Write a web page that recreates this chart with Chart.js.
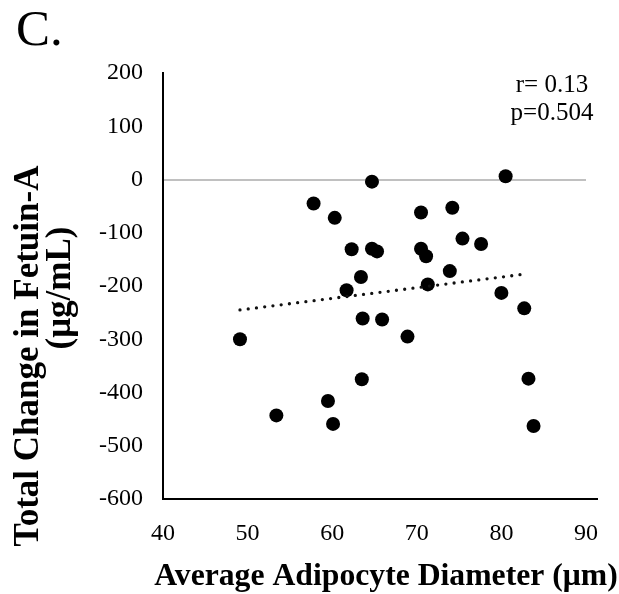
<!DOCTYPE html>
<html>
<head>
<meta charset="utf-8">
<script src="https://cdn.jsdelivr.net/npm/chart.js"></script>
<style>
  html, body { margin: 0; padding: 0; background: #fff; }
  #wrap { width: 619px; height: 594px; position: relative; }
</style>
</head>
<body>
<div id="wrap"><canvas id="c" width="619" height="594"></canvas></div>
<script>
// ---- data ----
const diameterX = [49.1, 53.4, 57.8, 59.5, 60.1, 60.3, 61.7, 62.3, 63.4, 63.6, 63.5, 64.7, 64.7, 65.3, 65.9,
                   68.9, 70.5, 70.5, 71.1, 71.3, 73.9, 74.2, 75.4, 77.6, 80.0, 80.5, 82.7, 83.2, 83.8];
const fetuinY   = [-300, -443, -45, -416, -459, -72, -208, -131, -183, -261, -375, -4, -130, -135, -263,
                   -295, -62, -130, -144, -197, -172, -53, -111, -121, -213, 6, -242, -374, -463];
const trendX = [49.1, 83.1];
const trendY = [-245, -177];
const xTicks = [40, 50, 60, 70, 80, 90];
const yTicks = [200, 100, 0, -100, -200, -300, -400, -500, -600];
const panelLabel = 'C.';
const statLines = ['r= 0.13', 'p=0.504'];
const xTitle = 'Average Adipocyte Diameter (μm)';
const yTitleLines = ['Total Change in Fetuin-A', '(μg/mL)'];

const SERIF = '"Liberation Serif", "Times New Roman", serif';

const points = diameterX.map((x, i) => ({ x: x, y: fetuinY[i] }));
const trend = trendX.map((x, i) => ({ x: x, y: trendY[i] }));

const textPlugin = {
  id: 'textPlugin',
  afterDraw(chart) {
    const ctx = chart.ctx;
    const a = chart.chartArea;
    ctx.save();
    // extend x axis line slightly past the last tick (as in reference)
    ctx.strokeStyle = '#000';
    ctx.lineWidth = 2;
    ctx.beginPath();
    ctx.moveTo(a.right - 1, a.bottom);
    ctx.lineTo(a.right + 12, a.bottom);
    ctx.stroke();

    ctx.fillStyle = '#000';
    // panel label
    ctx.font = '51px ' + SERIF;
    ctx.textAlign = 'left';
    ctx.textBaseline = 'alphabetic';
    ctx.fillText(panelLabel, 16, 45);
    // stats
    ctx.font = '25px ' + SERIF;
    ctx.textAlign = 'center';
    ctx.fillText(statLines[0], 552, 92);
    ctx.fillText(statLines[1], 552, 120);
    // x title
    ctx.font = 'bold 31.7px ' + SERIF;
    ctx.textAlign = 'center';
    ctx.fillText(xTitle, 386, 585);
    // y title (two lines, rotated)
    ctx.font = 'bold 35px ' + SERIF;
    ctx.save();
    ctx.translate(38, 356);
    ctx.rotate(-Math.PI / 2);
    ctx.fillText(yTitleLines[0], 0, 0);
    ctx.restore();
    ctx.save();
    ctx.translate(70, 288);
    ctx.rotate(-Math.PI / 2);
    ctx.fillText(yTitleLines[1], 0, 0);
    ctx.restore();
    ctx.restore();
  }
};

new Chart(document.getElementById('c'), {
  type: 'scatter',
  data: {
    datasets: [
      {
        label: 'trend',
        data: trend,
        showLine: true,
        borderColor: '#111',
        borderWidth: 3.3,
        borderDash: [0, 8.3],
        borderCapStyle: 'round',
        pointRadius: 0,
        pointHoverRadius: 0,
        fill: false,
        order: 0
      },
      {
        label: 'data',
        data: points,
        backgroundColor: '#000',
        borderColor: '#000',
        pointRadius: 7,
        pointHoverRadius: 7,
        borderWidth: 0,
        order: 1
      }
    ]
  },
  options: {
    responsive: false,
    animation: false,
    devicePixelRatio: 1,
    layout: { padding: { left: 0, right: 33, top: 73, bottom: 0 } },
    plugins: { legend: { display: false }, tooltip: { enabled: false } },
    scales: {
      x: {
        type: 'linear',
        min: 40, max: 90,
        afterBuildTicks(scale) { scale.ticks = xTicks.map(v => ({ value: v })); },
        afterFit(scale) { scale.height = 95; },
        grid: { display: false, drawTicks: false },
        border: { display: true, color: '#000', width: 2 },
        ticks: { color: '#000', padding: 20, font: { family: SERIF, size: 24 }, maxRotation: 0 },
        title: { display: false }
      },
      y: {
        type: 'linear',
        min: -600, max: 200,
        afterBuildTicks(scale) { scale.ticks = yTicks.map(v => ({ value: v })); },
        afterFit(scale) { scale.width = 163; },
        grid: {
          drawTicks: false,
          color: (c) => (c.tick && c.tick.value === 0) ? '#c0c0c0' : 'rgba(0,0,0,0)',
          lineWidth: 2
        },
        border: { display: true, color: '#000', width: 2 },
        ticks: { color: '#000', padding: 20, font: { family: SERIF, size: 24 } }
      }
    }
  },
  plugins: [textPlugin]
});
</script>
</body>
</html>
